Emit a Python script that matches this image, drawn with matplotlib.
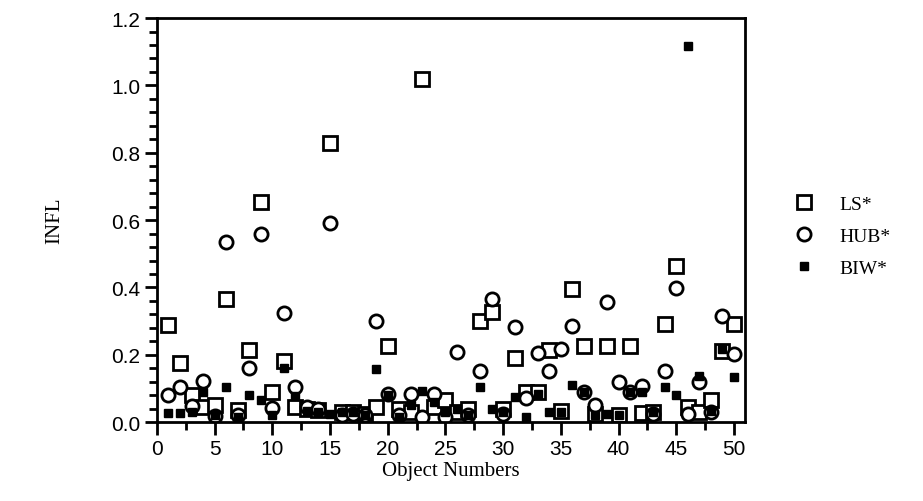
import matplotlib
matplotlib.use("Agg")
import matplotlib.pyplot as plt
import numpy as np
from matplotlib.ticker import MultipleLocator

objects = np.arange(1, 51)

ls_infl = [0.29, 0.175, 0.08, 0.045, 0.05, 0.365, 0.035, 0.215, 0.653, 0.09,
           0.183, 0.044, 0.04, 0.035, 0.83, 0.03, 0.03, 0.025, 0.044, 0.227,
           0.039, 0.029, 1.018, 0.045, 0.066, 0.03, 0.04, 0.30, 0.327, 0.04,
           0.19, 0.089, 0.089, 0.213, 0.034, 0.395, 0.227, 0.025, 0.227, 0.02,
           0.227, 0.026, 0.03, 0.292, 0.464, 0.044, 0.031, 0.066, 0.21, 0.292]

hub_infl = [0.08, 0.105, 0.047, 0.121, 0.017, 0.536, 0.02, 0.16, 0.56, 0.041,
            0.325, 0.105, 0.045, 0.04, 0.59, 0.02, 0.025, 0.02, 0.30, 0.083,
            0.02, 0.083, 0.015, 0.083, 0.015, 0.208, 0.02, 0.153, 0.365, 0.024,
            0.284, 0.072, 0.206, 0.151, 0.216, 0.285, 0.09, 0.05, 0.357, 0.118,
            0.09, 0.106, 0.025, 0.153, 0.397, 0.024, 0.118, 0.03, 0.315, 0.203]

biw_infl = [0.026, 0.026, 0.03, 0.09, 0.02, 0.105, 0.015, 0.08, 0.067, 0.02,
            0.16, 0.078, 0.034, 0.03, 0.025, 0.03, 0.03, 0.02, 0.158, 0.08,
            0.015, 0.05, 0.093, 0.059, 0.03, 0.039, 0.02, 0.105, 0.04, 0.03,
            0.074, 0.014, 0.085, 0.03, 0.03, 0.111, 0.089, 0.02, 0.025, 0.02,
            0.089, 0.089, 0.029, 0.103, 0.08, 1.117, 0.138, 0.034, 0.216, 0.135]

labels = ["LS*", "HUB*", "BIW*"]
x_ticks = list(range(0, 51, 5))
y_ticks = [0.0, 0.2, 0.4, 0.6, 0.8, 1.0, 1.2]

sans = ["Liberation Sans", "DejaVu Sans"]
serif = ["Liberation Serif", "DejaVu Serif"]

fig = plt.figure(figsize=(9.23, 5.02), dpi=100)
ax = fig.add_axes([0.170, 0.157, 0.637, 0.805])

ax.plot(objects, ls_infl, "s", ms=9.5, mfc="white", mec="black", mew=2.0, ls="none", label=labels[0])
ax.plot(objects, hub_infl, "o", ms=9.5, mfc="white", mec="black", mew=2.0, ls="none", label=labels[1])
ax.plot(objects, biw_infl, "s", ms=6, mfc="black", mec="black", ls="none", label=labels[2])

ax.set_xlim(0, 50.95)
ax.set_ylim(0, 1.2)
ax.set_xticks(x_ticks)
ax.set_xticklabels([str(v) for v in x_ticks], family=sans)
ax.set_yticks(y_ticks)
ax.set_yticklabels([f"{v:.1f}" for v in y_ticks], family=sans)
ax.xaxis.set_minor_locator(MultipleLocator(2.5))
ax.yaxis.set_minor_locator(MultipleLocator(0.04))
ax.tick_params(axis="both", which="major", direction="out", length=9, width=2, labelsize=15, pad=3)
ax.tick_params(axis="both", which="minor", direction="out", length=6, width=2)

for s in ax.spines.values():
    s.set_linewidth(2)

ax.set_xlabel("Object Numbers", family=serif, fontsize=15, labelpad=2)
ax.set_ylabel("INFL", family=serif, fontsize=15, labelpad=34)

ax.legend(loc="center left", bbox_to_anchor=(1.055, 0.46), frameon=False,
          prop={"family": serif, "size": 14}, handletextpad=1.3, labelspacing=0.75,
          handlelength=1.0)

fig.savefig("out.png", dpi=100)
